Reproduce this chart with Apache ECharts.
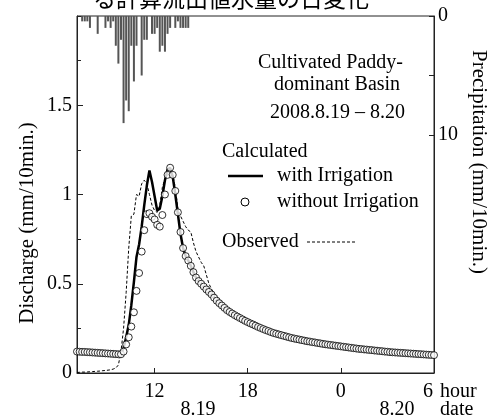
<!DOCTYPE html>
<html lang="en" style="height: 100%">
<head>
<meta charset="utf-8">
<title>Discharge and precipitation 2008.8.19 - 8.20</title>
</head>
<body style="height: 100%; margin: 0; background: #fff">
<div id="container" style="height: 100%"></div>

<script type="text/javascript" src="https://cdn.jsdelivr.net/npm/echarts/dist/echarts.min.js"></script>

<script type="text/javascript">

// time in hours since 8.19 0:00, 10-minute steps
var startHour = 7;
var stepHour = 1 / 6;

// calculated discharge without irrigation (circles), mm/10min
var withoutIrrigation = [
    0.120, 0.119, 0.118, 0.118, 0.117, 0.116, 0.115, 0.114, 0.113, 0.112,
    0.111, 0.110, 0.109, 0.108, 0.107, 0.106, 0.105, 0.105, 0.120, 0.160,
    0.200, 0.260, 0.340, 0.460, 0.560, 0.680, 0.800, 0.890, 0.895, 0.875,
    0.860, 0.830, 0.820, 0.885, 1.000, 1.110, 1.150, 1.110, 1.020, 0.900,
    0.790, 0.700, 0.655, 0.630, 0.600, 0.565, 0.535, 0.515, 0.500, 0.484,
    0.468, 0.454, 0.440, 0.422, 0.405, 0.391, 0.378, 0.365, 0.352, 0.342,
    0.333, 0.324, 0.316, 0.308, 0.300, 0.292, 0.285, 0.278, 0.272, 0.265,
    0.258, 0.252, 0.246, 0.240, 0.235, 0.229, 0.224, 0.220, 0.216, 0.212,
    0.208, 0.204, 0.200, 0.196, 0.193, 0.190, 0.187, 0.184, 0.181, 0.178,
    0.176, 0.173, 0.171, 0.168, 0.166, 0.163, 0.161, 0.159, 0.157, 0.155,
    0.153, 0.151, 0.149, 0.147, 0.145, 0.143, 0.141, 0.139, 0.137, 0.135,
    0.134, 0.132, 0.131, 0.129, 0.128, 0.126, 0.125, 0.123, 0.122, 0.120,
    0.119, 0.117, 0.116, 0.115, 0.114, 0.113, 0.112, 0.111, 0.110, 0.109,
    0.108, 0.107, 0.106, 0.105, 0.104, 0.103, 0.102, 0.101, 0.100
];

// calculated discharge with irrigation (solid line); after step 42 it runs on the circles
var withIrrigationHead = [
    0.120, 0.119, 0.118, 0.118, 0.117, 0.116, 0.115, 0.114, 0.113, 0.112,
    0.111, 0.110, 0.109, 0.108, 0.107, 0.106, 0.105, 0.110, 0.140, 0.200,
    0.270, 0.380, 0.510, 0.650, 0.720, 0.820, 0.940, 1.050, 1.135, 1.070,
    0.990, 0.910, 0.920, 0.990, 1.080, 1.140, 1.150, 1.100, 1.000, 0.890,
    0.780, 0.700
];
var withIrrigation = withIrrigationHead.concat(withoutIrrigation.slice(withIrrigationHead.length));

// observed discharge (dashed)
var observed = [
    0.003, 0.004, 0.005, 0.005, 0.006, 0.007, 0.008, 0.009, 0.010, 0.011,
    0.013, 0.014, 0.016, 0.018, 0.022, 0.028, 0.045, 0.120, 0.250, 0.450,
    0.700, 0.880, 0.890, 1.000, 0.990, 1.060, 1.080, 1.060, 1.000, 0.940,
    0.910, 0.900, 0.940, 1.040, 1.090, 1.110, 1.120, 1.110, 1.040, 0.920,
    0.880, 0.850, 0.820, 0.800, 0.790, 0.730, 0.680, 0.650, 0.620, 0.600,
    0.550, 0.500, 0.470, 0.445, 0.430, 0.410, 0.395,
    0.372, 0.358, 0.347, 0.338, 0.329, 0.321, 0.313, 0.305, 0.297, 0.290,
    0.283, 0.277, 0.270, 0.263, 0.257, 0.251, 0.245, 0.240, 0.234, 0.229,
    0.225, 0.221, 0.217, 0.213, 0.209, 0.205, 0.201, 0.198, 0.195, 0.192,
    0.189, 0.186, 0.183, 0.181, 0.178, 0.176, 0.173, 0.171, 0.168, 0.166,
    0.164, 0.162, 0.160, 0.158, 0.156, 0.154, 0.152, 0.150, 0.148, 0.146,
    0.144, 0.142, 0.140, 0.139, 0.137, 0.136, 0.134, 0.133, 0.131, 0.130,
    0.128, 0.127, 0.125, 0.124, 0.122, 0.121, 0.120, 0.119, 0.118, 0.117,
    0.116, 0.115, 0.114, 0.113, 0.112, 0.111, 0.110, 0.109, 0.108, 0.107,
    0.106, 0.105
];

// precipitation, mm/10min, starting at 7:20
var rainStartHour = 7 + 20 / 60;
var precipitation = [
    0.45, 0.45, 0.45, 1.0, 0, 0, 1.5, 0, 0, 1.0,
    0.45, 1.0, 0.45, 2.5, 4.0, 2.0, 9.0, 7.1, 8.0, 2.5,
    5.5, 2.5, 0, 5.0, 2.0, 2.0, 0, 1.5, 1.5, 1.0,
    3.0, 2.5, 3.0, 1.5, 1.0, 0, 1.0, 0.45, 1.0, 1.0,
    1.0, 1.0
];

var hourTicks = [12, 18, 24, 30];
var dischargeLabels = [0, 0.5, 1, 1.5];
var rainTicks = [0, 5, 10];
var rainLabels = [0, 10];

function toPairs(values, t0) {
    return values.map(function (v, i) { return [t0 + i * stepHour, v]; });
}

var serif = '"Liberation Serif", "Times New Roman", serif';
var fs = 20;

function label(text, x, y, align, rotation, size) {
    return {
        type: 'text',
        x: x,
        y: y,
        rotation: rotation || 0,
        style: {
            text: text,
            font: (size || fs) + 'px ' + serif,
            fill: '#000',
            align: align || 'left',
            verticalAlign: 'middle'
        }
    };
}

var dom = document.getElementById('container');
var myChart = echarts.init(dom);

var option = {
    animation: false,
    backgroundColor: '#fff',
    textStyle: { fontFamily: serif },
    grid: {
        left: 77,
        right: 65,
        top: 16,
        bottom: 45,
        show: true,
        borderColor: '#222',
        borderWidth: 1
    },
    xAxis: {
        type: 'value',
        min: 7,
        max: 30,
        splitLine: { show: false },
        axisLine: { lineStyle: { color: '#222' } },
        axisTick: { inside: true, length: 5, customValues: hourTicks, lineStyle: { color: '#222' } },
        axisLabel: {
            customValues: hourTicks,
            margin: 9,
            color: '#000',
            fontSize: fs,
            fontFamily: serif,
            formatter: function (v) {
                return v === 30 ? '{e|' + (v % 24) + '}' : String(v % 24);
            },
            rich: {
                e: { fontSize: fs, fontFamily: serif, color: '#000', padding: [0, 12, 0, 0] }
            }
        }
    },
    yAxis: [
        {
            type: 'value',
            min: 0,
            max: 2,
            interval: 0.5,
            splitLine: { show: false },
            axisLine: { show: true, lineStyle: { color: '#222' } },
            axisTick: { inside: true, length: 6, lineStyle: { color: '#222' } },
            minorTick: { show: true, splitNumber: 2, length: 4, lineStyle: { color: '#222' } },
            axisLabel: {
                customValues: dischargeLabels,
                margin: 5,
                color: '#000',
                fontSize: fs,
                fontFamily: serif
            }
        },
        {
            type: 'value',
            min: 0,
            max: 30,
            inverse: true,
            position: 'right',
            splitLine: { show: false },
            axisLine: { show: true, lineStyle: { color: '#222' } },
            axisTick: { inside: true, length: 5, customValues: rainTicks, lineStyle: { color: '#222' } },
            axisLabel: {
                customValues: rainLabels,
                margin: 4,
                color: '#000',
                fontSize: fs,
                fontFamily: serif
            }
        }
    ],
    series: [
        {
            name: 'Precipitation',
            type: 'bar',
            yAxisIndex: 1,
            barWidth: 2,
            itemStyle: { color: '#555' },
            data: toPairs(precipitation, rainStartHour)
        },
        {
            name: 'Observed',
            type: 'line',
            showSymbol: false,
            symbol: 'none',
            z: 3,
            lineStyle: { color: '#000', width: 1, type: [3, 2] },
            data: toPairs(observed, startHour)
        },
        {
            name: 'with Irrigation',
            type: 'line',
            showSymbol: false,
            symbol: 'none',
            z: 4,
            lineStyle: { color: '#000', width: 2.5 },
            data: toPairs(withIrrigation, startHour)
        },
        {
            name: 'without Irrigation',
            type: 'scatter',
            clip: false,
            z: 5,
            symbol: 'circle',
            symbolSize: 7,
            itemStyle: { color: '#fff', borderColor: '#000', borderWidth: 1 },
            data: toPairs(withoutIrrigation, startHour)
        }
    ],
    graphic: [
        {
            type: 'text',
            x: 93,
            y: -2,
            style: {
                text: 'る計算流出値水量の日変化',
                font: '23px "Noto Sans CJK JP"',
                fill: '#000',
                align: 'left',
                verticalAlign: 'middle'
            }
        },
        label('Discharge (mm/10min.)', 27, 223, 'center', Math.PI / 2, 21),
        label('Precipitation (mm/10min.)', 479, 162, 'center', -Math.PI / 2, 21),
        label('hour', 440, 392),
        label('date', 440, 410),
        label('8.19', 198, 410, 'center'),
        label('8.20', 397, 410, 'center'),
        label('Cultivated Paddy-', 258, 63),
        label('dominant Basin', 274, 85),
        label('2008.8.19 \u2013 8.20', 270, 113),
        label('Calculated', 222, 152),
        {
            type: 'line',
            shape: { x1: 228, y1: 176, x2: 263, y2: 176 },
            style: { stroke: '#000', lineWidth: 2.5 }
        },
        label('with Irrigation', 277, 176),
        {
            type: 'circle',
            shape: { cx: 245, cy: 202, r: 4 },
            style: { fill: '#fff', stroke: '#000', lineWidth: 1 }
        },
        label('without Irrigation', 277, 202),
        label('Observed', 222, 242),
        {
            type: 'line',
            shape: { x1: 307, y1: 242, x2: 357, y2: 242 },
            style: { stroke: '#000', lineWidth: 1, lineDash: [3, 2] }
        }
    ]
};

if (option && typeof option === 'object') {
    myChart.setOption(option);
}

window.addEventListener('resize', myChart.resize);
</script>
</body>
</html>
